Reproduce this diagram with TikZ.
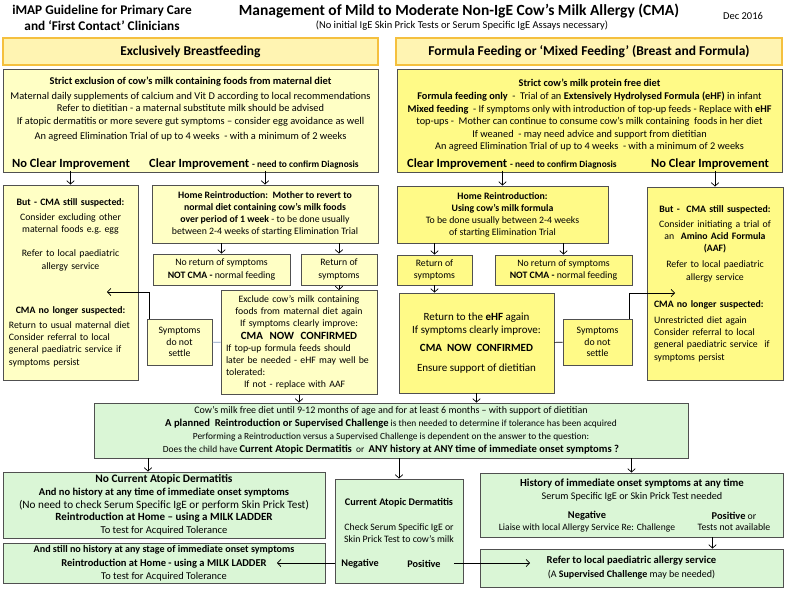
\documentclass[tikz,border=0pt]{standalone}
\usepackage{fontspec}
\setmainfont{Carlito}
\usetikzlibrary{arrows.meta}
\definecolor{paleyel}{RGB}{255,255,197}
\definecolor{deepyel}{RGB}{255,250,135}
\definecolor{hdryel}{RGB}{255,244,178}
\definecolor{hdredge}{RGB}{245,192,62}
\definecolor{mint}{RGB}{218,246,214}
\definecolor{edge}{RGB}{80,80,80}
\definecolor{linkblue}{RGB}{130,155,190}
\begin{document}
\begin{tikzpicture}[x=1pt, y=-1pt, font=\fontsize{9.8}{12.2}\selectfont,
    >={Straight Barb[length=3.5pt,width=7.5pt]},
    box/.style={draw=edge, line width=0.8pt, align=center, inner sep=2pt},
    bfbox/.style={box, fill=paleyel},
    ffbox/.style={box, fill=deepyel},
    gbox/.style={box, fill=mint},
    hdr/.style={draw=hdredge, line width=2.4pt, fill=hdryel, font=\fontsize{13.5}{16}\selectfont\bfseries},
    sz/.style 2 args={minimum width=#1pt, minimum height=#2pt},
    outc/.style={font=\fontsize{12.5}{14}\selectfont\bfseries, inner sep=1pt},
    txt/.style={align=center, inner sep=1pt},
    arr/.style={->, line width=0.7pt},
    link/.style={line width=0.7pt}]
\useasboundingbox (0,0) rectangle (785,590);
\fill[white] (0,0) rectangle (785,590);

\node[txt, font=\fontsize{13.3}{16}\selectfont\bfseries] (guide) at (102,18) {iMAP Guideline for Primary Care\\and ‘First Contact’ Clinicians};
\node[txt, font=\fontsize{15.5}{18}\selectfont\bfseries] (title) at (459,11) {Management of Mild to Moderate Non-IgE Cow’s Milk Allergy (CMA)};
\node[txt, font=\fontsize{10.5}{12}\selectfont] (subtitle) at (462,26) {(No initial IgE Skin Prick Tests or Serum Specific IgE Assays necessary)};
\node[txt, font=\fontsize{10.5}{12}\selectfont] (date) at (743,16) {Dec 2016};

\node[hdr, sz={375}{27}] (bfhead) at (190.5,51.5) {Exclusively Breastfeeding};
\node[hdr, sz={386}{27}] (ffhead) at (589,51.5) {Formula Feeding or ‘Mixed Feeding’ (Breast and Formula)};

\node[bfbox, sz={375}{103}] (bfmain) at (190.5,120.5) {};
\node[txt, font=\fontsize{10.4}{12.2}\selectfont] (bfdiet) at (190.5,109) {\textbf{Strict exclusion of cow’s milk containing foods from maternal diet}\\[3pt]
  Maternal daily supplements of calcium and Vit D according to local recommendations\\
  Refer to dietitian - a maternal substitute milk should be advised\\
  If atopic dermatitis or more severe gut symptoms – consider egg avoidance as well\\[3pt]
  An agreed Elimination Trial of up to 4 weeks\ \ - with a minimum of 2 weeks};
\node[outc] (bfnoimp) at (71,164) {No Clear Improvement};
\node[outc, anchor=west] (bfimp) at (148,164) {Clear Improvement {\fontsize{9.4}{11}\selectfont - need to confirm Diagnosis}};

\node[ffbox, sz={385}{103}] (ffmain) at (589.5,120.5) {};
\node[txt, font=\fontsize{10.3}{12.6}\selectfont] (ffdiet) at (589.5,115.5) {\textbf{Strict cow’s milk protein free diet}\\
  \textbf{Formula feeding only}\ \ -\ \ Trial of an \textbf{Extensively Hydrolysed Formula (eHF)} in infant\\
  \textbf{Mixed feeding}\ \ - If symptoms only with introduction of top-up feeds - Replace with \textbf{eHF}\\
  top-ups -\ \ Mother can continue to consume cow’s milk containing\ \ foods in her diet\\
  If weaned\ \ - may need advice and support from dietitian\\
  An agreed Elimination Trial of up to 4 weeks\ \ - with a minimum of 2 weeks};
\node[outc, anchor=west] (ffimp) at (406,164) {Clear Improvement {\fontsize{9.4}{11}\selectfont - need to confirm Diagnosis}};
\node[outc] (ffnoimp) at (710,164) {No Clear Improvement};

\node[bfbox, sz={135}{195}, text width=123pt, inner sep=6pt, align=left] (bfsusp) at (70.5,282.5) {{\centering\textbf{But - CMA still suspected:}\\[3pt]
  Consider excluding other\\ maternal foods e.g.\ egg\\[12pt]
  Refer to local paediatric\\ allergy service\\[32pt]
  \textbf{CMA no longer suspected:}\par}\vspace{3pt}
  Return to usual maternal diet\\ Consider referral to local\\ general paediatric service if\\ symptoms persist};
\node[bfbox, sz={226}{58}, font=\fontsize{9.8}{11.8}\selectfont] (bfhome) at (265,214) {\textbf{Home Reintroduction:\ \ Mother to revert to}\\
  \textbf{normal diet containing cow’s milk foods}\\
  \textbf{over period of 1 week} - to be done usually\\
  between 2-4 weeks of starting Elimination Trial};
\node[bfbox, sz={137}{31}, font=\fontsize{9.8}{12.8}\selectfont] (bfnoret) at (221.5,269.5) {No return of symptoms\\\textbf{NOT CMA -} normal feeding};
\node[bfbox, sz={76}{31}, font=\fontsize{9.8}{12.8}\selectfont] (bfret) at (339,269.5) {Return of\\symptoms};
\node[bfbox, sz={65}{46}, font=\fontsize{9.8}{11.8}\selectfont] (bfsettle) at (179.5,342) {Symptoms\\do not\\settle};
\node[bfbox, sz={156}{101}, text width=146pt, inner sep=5pt, align=left] (bfexcl) at (299,342.5) {{\centering Exclude cow’s milk containing\\ foods from maternal diet again\\ If symptoms clearly improve:\\
  {\fontsize{11}{13}\selectfont\bfseries CMA\ \ NOW\ \ CONFIRMED}\par}
  If top-up formula feeds should\\ later be needed - eHF may well be\\ tolerated:\\ \hspace*{18pt}If not - replace with AAF};

\node[ffbox, sz={211}{57}, font=\fontsize{9.8}{12}\selectfont] (ffhome) at (502.5,214.5) {\textbf{Home Reintroduction:}\\ \textbf{Using cow’s milk formula}\\ To be done usually between 2-4 weeks\\ of starting Elimination Trial};
\node[ffbox, sz={75}{30}, font=\fontsize{9.8}{12.8}\selectfont] (ffret) at (434.5,270) {Return of\\symptoms};
\node[ffbox, sz={137}{30}, font=\fontsize{9.8}{12.8}\selectfont] (ffnoret) at (563.5,270) {No return of symptoms\\\textbf{NOT CMA -} normal feeding};
\node[ffbox, sz={155}{100}, font=\fontsize{11}{13}\selectfont] (ffehf) at (476.5,343) {Return to the \textbf{eHF} again\\ If symptoms clearly improve:\\[5pt]
  \textbf{CMA\ \ NOW\ \ CONFIRMED}\\[7pt] Ensure support of dietitian};
\node[ffbox, sz={69}{46}, font=\fontsize{9.8}{11.8}\selectfont] (ffsettle) at (597.5,342) {Symptoms\\do not\\settle};
\node[ffbox, sz={136}{193}, text width=122pt, inner sep=7pt, align=left] (ffsusp) at (715,283.5) {{\centering\textbf{But -\ \ CMA still suspected:}\\[3pt]
  Consider initiating a trial of\\ an\ \ \textbf{Amino Acid Formula}\\ \textbf{(AAF)}\\[4pt]
  Refer to local paediatric\\ allergy service\par}\vspace{15pt}
  \textbf{CMA no longer suspected:}\\[4pt]
  Unrestricted diet again\\ Consider referral to local\\ general paediatric service\ \ if\\ symptoms persist};

\node[gbox, sz={594}{55}, font=\fontsize{9.4}{13}\selectfont] (plan) at (391,430.5) {{\fontsize{10}{12}\selectfont Cow’s milk free diet until 9-12 months of age and for at least 6 months – with support of dietitian}\\
  {\fontsize{10.6}{12}\selectfont\bfseries A planned\ \ Reintroduction or Supervised Challenge} is then needed to determine if tolerance has been acquired\\
  Performing a Reintroduction versus a Supervised Challenge is dependent on the answer to the question:\\
  Does the child have {\fontsize{10.6}{12}\selectfont\bfseries Current Atopic Dermatitis}\ \ or\ \ {\fontsize{10.6}{12}\selectfont\bfseries ANY history at ANY time of immediate onset symptoms ?}};

\node[gbox, sz={322}{66}, font=\fontsize{10.5}{12.6}\selectfont] (noad) at (164,505) {{\fontsize{11.4}{12}\selectfont\bfseries No Current Atopic Dermatitis}\\
  \textbf{And no history at any time of immediate onset symptoms}\\
  {\fontsize{11.2}{12}\selectfont(No need to check Serum Specific IgE or perform Skin Prick Test)}\\
  {\fontsize{11}{12}\selectfont\bfseries Reintroduction at Home – using a MILK LADDER}\\
  To test for Acquired Tolerance};
\node[gbox, sz={322}{39}, font=\fontsize{10.4}{13.5}\selectfont] (ladder) at (164,563.5) {{\fontsize{10.1}{12}\selectfont\bfseries And still no history at any stage of immediate onset symptoms}\\
  {\fontsize{10.5}{12}\selectfont\bfseries Reintroduction at Home - using a MILK LADDER}\\
  To test for Acquired Tolerance};

\node[gbox, sz={128}{104}] (curad) at (399,531) {};
\node[txt] (curtxt) at (399,520.5) {{\fontsize{10.2}{12}\selectfont\bfseries Current Atopic Dermatitis}\\[12pt] Check Serum Specific IgE or\\ Skin Prick Test to cow’s milk};
\node[txt, font=\fontsize{10.2}{12}\selectfont\bfseries] (cneg) at (360,564) {Negative};
\node[txt, font=\fontsize{10.2}{12}\selectfont\bfseries] (cpos) at (424,564) {Positive};

\node[gbox, sz={303}{64}] (hist) at (631.5,505) {};
\node[txt, font=\fontsize{10.2}{13.5}\selectfont] (histtxt) at (632,490) {{\fontsize{10.8}{12}\selectfont\bfseries History of immediate onset symptoms at any time}\\ Serum Specific IgE or Skin Prick Test needed};
\node[txt, font=\fontsize{9.6}{11.5}\selectfont] (hneg) at (587,521.5) {{\fontsize{10.4}{12}\selectfont\bfseries Negative}\\ Liaise with local Allergy Service Re: Challenge};
\node[txt, font=\fontsize{9.8}{11.5}\selectfont] (hpos) at (734,521.5) {{\fontsize{10.4}{12}\selectfont\bfseries Positive} or\\ Tests not available};
\node[gbox, sz={303}{38}, font=\fontsize{10}{14}\selectfont] (refer) at (631.5,568) {{\fontsize{10.6}{12}\selectfont\bfseries Refer to local paediatric allergy service}\\ (A \textbf{Supervised Challenge} may be needed)};

\coordinate (bfback) at (107,292);
\coordinate (ffback) at (675,293);
\coordinate (ladderin) at (277,563);
\coordinate (referin) at (530,563);

\draw[arr] (bfnoimp.south -| bfsusp) -- (bfsusp.north);
\draw[arr] (bfhome.north |- bfimp.south) -- (bfhome.north);
\draw[arr] (bfnoret.north |- bfhome.south) -- (bfnoret.north);
\draw[arr] (bfret.north |- bfhome.south) -- (bfret.north);
\draw[arr] (bfret.south) -- (bfret.south |- bfexcl.north);
\draw[arr] ([xshift=3pt]bfsettle.north west) |- (bfback);
\draw[link, linkblue] (bfsettle) -- (bfexcl);
\draw[arr] (bfexcl.south) -- (bfexcl.south |- plan.north);

\draw[arr] (ffhome.north |- ffimp.south) -- (ffhome.north);
\draw[arr] (ffsusp.north |- ffnoimp.south) -- (ffsusp.north);
\draw[arr] (ffret.north |- ffhome.south) -- (ffret.north);
\draw[arr] (ffnoret.north |- ffhome.south) -- (ffnoret.north);
\draw[arr] (ffret.south) -- (ffret.south |- ffehf.north);
\draw[link] (ffehf) -- (ffsettle);
\draw[arr] ([xshift=-3pt]ffsettle.north east) |- (ffback);
\draw[arr] (ffehf.south) -- (ffehf.south |- plan.north);

\draw[arr] ([xshift=-16pt]noad.north |- plan.south) -- ([xshift=-16pt]noad.north);
\draw[arr] (curad.north |- plan.south) -- (curad.north);
\draw[arr] (hist.north |- plan.south) -- (hist.north);
\draw[arr] ([xshift=81pt]hist.south) -- ([xshift=81pt]refer.north);
\draw[arr] (ladderin -| curad.west) -- (ladderin);
\draw[arr] ([xshift=12pt]cpos.east |- referin) -- (referin);
\end{tikzpicture}
\end{document}
